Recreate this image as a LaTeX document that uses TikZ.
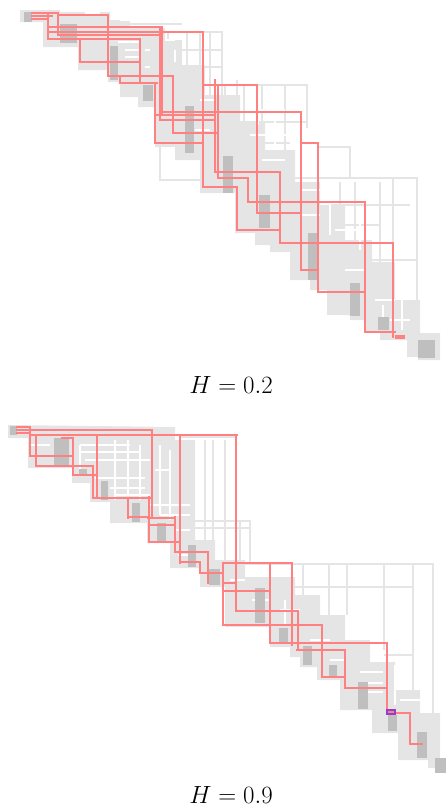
\documentclass[tikz,border=0pt]{standalone}
\definecolor{lg}{RGB}{229,229,229}
\definecolor{dg}{RGB}{191,191,191}
\definecolor{rl}{RGB}{255,128,128}
\definecolor{pu}{RGB}{150,60,200}
\begin{document}
\begin{tikzpicture}[x=1pt,y=-1pt,
  redp/.style={draw=rl,line width=1.7pt},
  gridl/.style={draw=lg,line width=2.6pt},
  gap/.style={draw=white,line width=1.4pt},
  dblock/.style={fill=dg},
  lab/.style={font=\fontsize{25}{30}\selectfont}]
\useasboundingbox (0,0) rectangle (446,812);

% ================= TOP PANEL (H=0.2) =================
\fill[lg] (20,10) -- (20,22) -- (43,22) -- (43,47) -- (78,47) -- (78,70) -- (108,70) -- (108,82) -- (120,82) -- (120,97) -- (138,97) -- (138,107) -- (155,107) -- (155,147) -- (175,147) -- (175,160) -- (200,160) -- (200,193) -- (235,193) -- (235,233) -- (255,233) -- (255,245) -- (270,245) -- (270,252) -- (290,252) -- (290,280) -- (310,280) -- (310,290) -- (327,290) -- (327,315) -- (350,315) -- (350,320) -- (365,320) -- (365,332) -- (380,332) -- (380,340) -- (407,340) -- (407,357) -- (418,357) -- (418,360) -- (440,360)
 -- (440,333) -- (420,333) -- (420,300) -- (395,300) -- (395,262) -- (372,262) -- (372,240) -- (345,240) -- (345,205) -- (320,205) -- (320,182) -- (295,182) -- (295,150) -- (265,150) -- (265,122) -- (240,122) -- (240,95) -- (205,95) -- (205,65) -- (182,65) -- (182,40) -- (165,40) -- (165,28) -- (130,28) -- (130,20) -- (110,20) -- (110,12) -- (60,12) -- (60,10) -- cycle;
% light grey grid outlines
\draw[gridl] (32,13) -- (108,13);
\draw[gridl] (60,24) -- (182,24);
\draw[gridl] (160,32) rectangle (222,180);
\draw[gridl] (168,32) -- (168,100);
\draw[gridl] (187,32) -- (187,100);
\draw[gridl] (200,32) -- (200,100);
\draw[gridl] (210,32) -- (210,170);
\draw[gridl] (160,50) -- (222,50);
\draw[gridl] (160,67) -- (222,67);
\draw[gridl] (185,85) -- (307,85) -- (307,128);
\draw[gridl] (225,85) -- (225,160);
\draw[gridl] (237,80) -- (237,173);
\draw[gridl] (244,85) -- (244,173);
\draw[gridl] (262,85) -- (262,140);
\draw[gridl] (285,85) -- (285,150);
\draw[gridl] (222,122) -- (307,122);
\draw[gridl] (222,143) -- (290,143);
\draw[gridl] (318,147) -- (350,147) -- (350,178);
\draw[gridl] (280,178) -- (417,178) -- (417,340);
\draw[gridl] (393,178) -- (393,335);
\draw[gridl] (380,182) -- (380,315);
\draw[gridl] (340,182) -- (340,290);
\draw[gridl] (355,182) -- (355,250);
\draw[gridl] (355,260) -- (417,260);
\draw[gridl] (330,205) -- (410,205);
\draw[gridl] (300,225) -- (380,225);
% white gaps inside band
\foreach \a/\b/\c/\d in {85/13/100/13, 120/20/135/20, 118/42/140/42, 125/50/140/50, 125/57/140/57, 145/50/150/50, 145/67/150/67, 92/75/100/75, 165/40/175/40, 200/100/215/100, 195/130/210/130, 250/110/285/110, 250/135/290/135, 262/160/285/160, 300/190/320/190, 300/215/320/215, 335/230/360/230, 345/270/365/270, 375/300/395/300, 390/320/410/320}
  \draw[gap] (\a,\b) -- (\c,\d);
\foreach \a/\b/\c/\d in {175/50/175/62, 258/95/258/125, 275/95/275/145, 330/185/330/235, 360/215/360/250, 402/270/402/330, 383/305/383/322}
  \draw[gap] (\a,\b) -- (\c,\d);
% dark diagonal blocks
\foreach \a/\b/\c/\d in {24/12/32/22, 60/24/77/43, 110/46/118/80, 143/85/153/101, 185/106/194/153, 223/156/233/193, 259/195/270/228, 308/233/318/280, 350/283/360/316, 378/317/389/330, 418/340/435/358}
  \fill[dg] (\a,\b) rectangle (\c,\d);
% red paths
\foreach \a/\b/\c/\d in {
 32/13/58/13, 58/15/108/15, 108/15/108/76, 108/76/173/76, 173/76/173/133,
 32/16/52/16, 32/19/48/19, 48/13/48/39, 58/13/58/33,
 48/27/162/27, 48/32/203/32, 58/35/160/35, 48/39/140/39,
 80/39/80/62, 80/62/140/62, 140/39/140/83, 120/76/120/83, 120/83/157/83,
 155/83/155/143, 160/27/160/120, 162/27/162/115,
 157/115/215/115, 160/120/215/120, 173/133/217/133, 155/143/203/143,
 203/32/203/187, 203/85/257/85, 215/80/215/172, 218/85/218/178,
 162/112/301/112, 257/85/257/213, 301/112/301/270, 301/143/318/143,
 318/143/318/292, 215/172/280/172, 218/178/248/178, 203/187/237/187,
 237/187/237/230, 237/230/280/230, 280/172/280/243, 248/178/248/202,
 248/202/365/202, 365/202/365/332, 257/213/301/213, 280/243/393/243,
 393/243/393/337, 301/270/318/270, 318/292/365/292, 365/332/395/332}
  \draw[redp,line cap=rect] (\a,\b) -- (\c,\d);
\fill[rl] (395,335) rectangle (405,339);
\node[lab] (h1) at (231,385) {$H = 0.2$};

% ================= BOTTOM PANEL (H=0.9) =================
\fill[lg] (8,425) -- (8,438) -- (28,438) -- (28,468) -- (72,468) -- (72,483) -- (90,483) -- (90,502) -- (110,502) -- (110,523) -- (147,523) -- (147,543) -- (170,543) -- (170,568) -- (200,568) -- (200,587) -- (225,587) -- (225,627) -- (270,627) -- (270,647) -- (290,647) -- (290,657) -- (300,657) -- (300,667) -- (317,667) -- (317,680) -- (340,680) -- (340,710) -- (372,710) -- (372,733) -- (398,733) -- (398,760) -- (428,760) -- (428,768) -- (440,768)
 -- (440,755) -- (440,713) -- (420,713) -- (420,690) -- (395,690) -- (395,662) -- (370,662) -- (370,640) -- (345,640) -- (345,615) -- (320,615) -- (320,595) -- (295,595) -- (295,577) -- (245,577) -- (245,560) -- (215,560) -- (215,540) -- (195,540) -- (195,440) -- (175,440) -- (175,427) -- cycle;
% grid outlines
\draw[gridl] (180,437) -- (237,437);
\draw[gridl] (205,440) -- (205,560);
\draw[gridl] (213,440) -- (213,540);
\draw[gridl] (225,440) -- (225,560);
\draw[gridl] (187,521) -- (250,521);
\draw[gridl] (187,528) -- (250,528);
\draw[gridl] (240,520) -- (240,565);
\draw[gridl] (250,520) -- (250,565);
\draw[gridl] (215,564) -- (433,564) -- (433,713);
\draw[gridl] (303,564) -- (303,640);
\draw[gridl] (329,564) -- (329,620);
\draw[gridl] (347,564) -- (347,615);
\draw[gridl] (384,564) -- (384,650);
\draw[gridl] (413,564) -- (413,707);
\draw[gridl] (277,587) -- (413,587);
\draw[gridl] (303,616) -- (343,616);
\draw[gridl] (384,655) -- (413,655);
% white gaps
\foreach \a/\b/\c/\d in {40/430/60/430, 30/445/50/445, 80/445/130/445, 80/452/140/452, 85/460/150/460, 95/478/145/478, 110/488/145/488, 115/495/150/495, 150/505/190/505, 160/515/190/515, 155/470/170/470, 175/530/190/530, 178/555/195/555, 230/580/245/580, 252/600/270/600, 280/610/300/610, 310/640/330/640, 320/650/340/650, 330/660/345/660, 360/672/383/672, 362/683/383/683, 365/692/383/692, 400/700/420/700}
  \draw[gap] (\a,\b) -- (\c,\d);
\foreach \a/\b/\c/\d in {80/445/80/470, 115/440/115/500, 128/440/128/495, 140/445/140/500, 160/445/160/515, 170/450/170/520, 258/590/258/615, 285/600/285/625, 395/665/395/705}
  \draw[gap] (\a,\b) -- (\c,\d);
% dark blocks
\foreach \a/\b/\c/\d in {10/426/17/435, 54/438/69/465, 79/469/87/476, 101/481/108/500, 132/503/140/522, 157/523/166/542, 188/545/196/567, 209/569/220/585, 255/588/265/623, 279/628/288/643, 303/646/312/665, 329/665/337/678, 358/682/368/709, 388/715/397/731, 417/732/427/758, 435/758/446/773}
  \fill[dg] (\a,\b) rectangle (\c,\d);
% red paths
\foreach \a/\b/\c/\d in {
 17/427/30/427, 17/430/152/430, 17/433/30/433, 30/435/237/435,
 30/427/30/456, 62/438/73/438, 30/456/73/456, 36/435/36/466, 36/466/93/466,
 73/438/73/475, 73/475/97/475, 93/466/93/498, 97/435/97/498, 93/498/152/498,
 128/498/128/518, 129/517/149/517, 152/430/152/518, 148/518/175/518,
 149/497/149/542, 149/525/175/525, 149/542/180/542, 175/517/175/552,
 180/435/180/563, 175/552/208/552, 180/562/200/562, 200/562/200/573,
 208/552/208/583, 200/573/223/573, 223/563/223/625, 223/563/292/563,
 223/583/235/583, 223/591/270/591, 236/435/236/611, 236/611/298/611,
 270/563/270/643, 292/563/292/645, 298/611/298/650, 223/625/322/625,
 322/625/322/677, 270/643/387/643, 297/650/345/650, 345/650/345/688,
 322/677/345/677, 345/688/387/688, 387/643/387/713, 387/713/410/713,
 410/713/410/744, 410/744/422/744}
  \draw[redp,line cap=rect] (\a,\b) -- (\c,\d);
\draw[draw=pu,line width=1.2pt,fill=rl] (387,710) rectangle (395,714);
\node[lab] (h2) at (231,795) {$H = 0.9$};
\end{tikzpicture}
\end{document}
